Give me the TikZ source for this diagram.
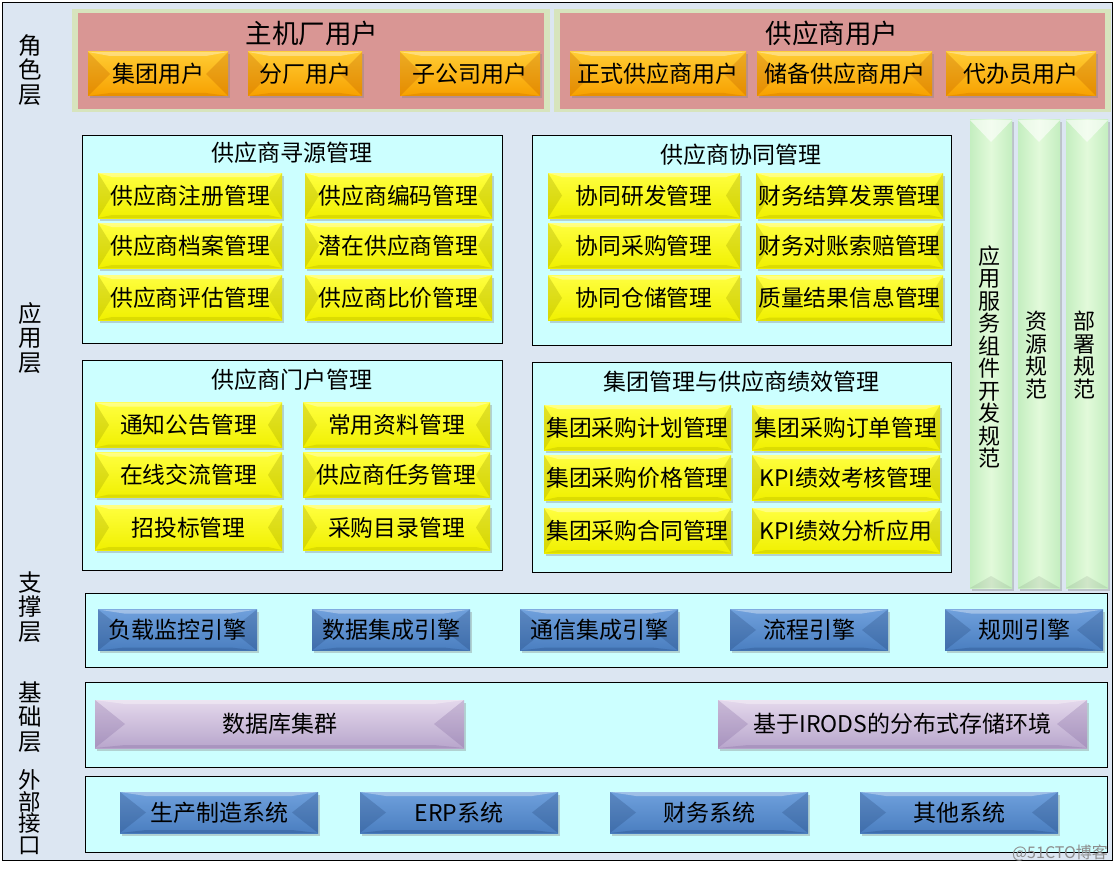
\documentclass[tikz,border=0pt]{standalone}
\usepackage{fontspec}
\setmainfont{Noto Sans CJK SC}
\usetikzlibrary{shadows}
\definecolor{bgc}{HTML}{DCE6F2}
\definecolor{cyanbox}{HTML}{CCFFFF}
\definecolor{pinkc}{HTML}{D99694}
\definecolor{greenglow}{HTML}{D7E4BD}
\definecolor{orT}{HTML}{FFCC33}
\definecolor{orB}{HTML}{F7A000}
\definecolor{orE}{HTML}{C06000}
\definecolor{yeT}{HTML}{FFFF40}
\definecolor{yeB}{HTML}{F0F000}
\definecolor{yeE}{HTML}{A0A000}
\definecolor{blT}{HTML}{6FA0DC}
\definecolor{blB}{HTML}{4A7EC0}
\definecolor{blE}{HTML}{1F3F70}
\definecolor{puT}{HTML}{E4D8EC}
\definecolor{puB}{HTML}{B8A6CC}
\definecolor{puE}{HTML}{7A5E99}
\definecolor{grT}{HTML}{E2FADA}
\definecolor{grB}{HTML}{C4EEC0}
\tikzset{
  bevel/.style n args={5}{
    draw=none, top color=#1, bottom color=#2, inner sep=0pt,
    drop shadow={shadow xshift=1.5pt, shadow yshift=-2.5pt, opacity=0.35},
    path picture={
      \fill[white, opacity=0.35] (path picture bounding box.north west) -- (path picture bounding box.north east)
        -- ([xshift=-#4, yshift=-4pt]path picture bounding box.north east)
        -- ([xshift=#4, yshift=-4pt]path picture bounding box.north west) -- cycle;
      \fill[#3, opacity=#5] (path picture bounding box.north west) -- ([xshift=#4]path picture bounding box.west)
        -- (path picture bounding box.south west) -- cycle;
      \fill[#3, opacity=#5] (path picture bounding box.north east) -- ([xshift=-#4]path picture bounding box.east)
        -- (path picture bounding box.south east) -- cycle;
      \fill[#3, opacity=0.25] (path picture bounding box.south west) -- (path picture bounding box.south east)
        -- ([xshift=-#4, yshift=3pt]path picture bounding box.south east)
        -- ([xshift=#4, yshift=3pt]path picture bounding box.south west) -- cycle;
    }},
  orbtn/.style={bevel={orT}{orB}{orE}{22pt}{0.3}, minimum height=44pt, font=\fontsize{23}{25}\selectfont},
  yebtn/.style={bevel={yeT}{yeB}{yeE}{14pt}{0.3}, minimum height=45pt, font=\fontsize{22.8}{25}\selectfont},
  blbtn/.style={bevel={blT}{blB}{blE}{26pt}{0.25}, minimum height=41pt, font=\fontsize{23}{25}\selectfont},
  pubtn/.style={bevel={puT}{puB}{puE}{30pt}{0.25}, minimum height=48pt, font=\fontsize{23}{25}\selectfont},
  grbar/.style={draw=none, left color=grB, right color=grB, middle color=grT, inner sep=0pt,
    drop shadow={shadow xshift=1.5pt, shadow yshift=-2.5pt, opacity=0.35},
    path picture={
      \fill[white, opacity=0.6] (path picture bounding box.north west) -- (path picture bounding box.north east)
        -- ([yshift=-22pt]path picture bounding box.north) -- cycle;
      \fill[black, opacity=0.08] (path picture bounding box.south west) -- (path picture bounding box.south east)
        -- ([yshift=12pt]path picture bounding box.south) -- cycle;
    }},
  grpbox/.style={draw=black, line width=0.8pt, fill=cyanbox},
  sidelbl/.style={align=center, font=\fontsize{23.5}{24.5}\selectfont, inner sep=0pt},
  ttl/.style={font=\fontsize{23}{25}\selectfont, inner sep=0pt},
  bigttl/.style={font=\fontsize{26.5}{28}\selectfont, inner sep=0pt},
  vtxt/.style={align=center, font=\fontsize{22}{22.5}\selectfont, inner sep=0pt}
}
\begin{document}
\begin{tikzpicture}[x=1pt,y=-1pt]
\useasboundingbox (0,0) rectangle (1118,872);
\fill[white] (0,0) rectangle (1118,872);
\node[draw=black, line width=0.8pt, fill=bgc, minimum width=1110pt, minimum height=858pt, inner sep=0pt] (frame) at (557,431) {};

% side labels
\node[sidelbl] (l1) at (30,70) {角\\色\\层};
\node[sidelbl] (l2) at (30,338) {应\\用\\层};
\node[sidelbl] (l3) at (30,607) {支\\撑\\层};
\node[sidelbl] (l4) at (30,717) {基\\础\\层};
\node[sidelbl, font=\fontsize{22.5}{21.5}\selectfont] (l5) at (30,812) {外\\部\\接\\口};

% role layer
\node[fill=greenglow, minimum width=478pt, minimum height=103pt, inner sep=0pt] (hostg) at (311,61) {};
\node[fill=pinkc, minimum width=466pt, minimum height=96pt, inner sep=0pt] (host) at (311,61) {};
\node[fill=greenglow, minimum width=557pt, minimum height=103pt, inner sep=0pt] (supg) at (832,61) {};
\node[fill=pinkc, minimum width=545pt, minimum height=96pt, inner sep=0pt] (sup) at (832,61) {};
\node[bigttl] (hostt) at (312,33) {主机厂用户};
\node[bigttl] (supt) at (832,33) {供应商用户};
\node[orbtn, minimum width=140pt] (r1) at (158,74) {集团用户};
\node[orbtn, minimum width=114pt] (r2) at (305,74) {分厂用户};
\node[orbtn, minimum width=140pt] (r3) at (470,74) {子公司用户};
\node[orbtn, minimum width=176pt] (r4) at (658,74) {正式供应商用户};
\node[orbtn, minimum width=175pt] (r5) at (844.5,74) {储备供应商用户};
\node[orbtn, minimum width=150pt] (r6) at (1021,74) {代办员用户};

% application layer groups
\node[grpbox, minimum width=420pt, minimum height=208pt, inner sep=0pt] (g1) at (292,239) {};
\node[ttl] (g1t) at (292,153) {供应商寻源管理};
\node[yebtn, minimum width=184pt] (a11) at (190,195.5) {供应商注册管理};
\node[yebtn, minimum width=187pt] (a12) at (398.5,195.5) {供应商编码管理};
\node[yebtn, minimum width=184pt] (a21) at (190,245.5) {供应商档案管理};
\node[yebtn, minimum width=187pt] (a22) at (398.5,245.5) {潜在供应商管理};
\node[yebtn, minimum width=184pt] (a31) at (190,297.5) {供应商评估管理};
\node[yebtn, minimum width=187pt] (a32) at (398.5,297.5) {供应商比价管理};

\node[grpbox, minimum width=419pt, minimum height=210pt, inner sep=0pt] (g2) at (741.5,240) {};
\node[ttl] (g2t) at (741,155) {供应商协同管理};
\node[yebtn, minimum width=192pt] (b11) at (644,195.5) {协同研发管理};
\node[yebtn, minimum width=187pt] (b12) at (849.5,195.5) {财务结算发票管理};
\node[yebtn, minimum width=192pt] (b21) at (644,245.5) {协同采购管理};
\node[yebtn, minimum width=187pt] (b22) at (849.5,245.5) {财务对账索赔管理};
\node[yebtn, minimum width=192pt] (b31) at (644,298) {协同仓储管理};
\node[yebtn, minimum width=187pt] (b32) at (849.5,298) {质量结果信息管理};

\node[grpbox, minimum width=420pt, minimum height=210pt, inner sep=0pt] (g3) at (292,465) {};
\node[ttl] (g3t) at (292,380) {供应商门户管理};
\node[yebtn, minimum width=187pt] (c11) at (188.5,425) {通知公告管理};
\node[yebtn, minimum width=187pt] (c12) at (396.5,425) {常用资料管理};
\node[yebtn, minimum width=187pt] (c21) at (188.5,475) {在线交流管理};
\node[yebtn, minimum width=187pt] (c22) at (396.5,475) {供应商任务管理};
\node[yebtn, minimum width=187pt] (c31) at (188.5,527.5) {招投标管理};
\node[yebtn, minimum width=187pt] (c32) at (396.5,527.5) {采购目录管理};

\node[grpbox, minimum width=419pt, minimum height=210pt, inner sep=0pt] (g4) at (741.5,467) {};
\node[ttl] (g4t) at (741,382) {集团管理与供应商绩效管理};
\node[yebtn, minimum width=187pt] (d11) at (637.5,427.5) {集团采购计划管理};
\node[yebtn, minimum width=188pt] (d12) at (846,427.5) {集团采购订单管理};
\node[yebtn, minimum width=187pt] (d21) at (637.5,477.5) {集团采购价格管理};
\node[yebtn, minimum width=188pt] (d22) at (846,477.5) {KPI绩效考核管理};
\node[yebtn, minimum width=187pt] (d31) at (637.5,530.5) {集团采购合同管理};
\node[yebtn, minimum width=188pt] (d32) at (846,530.5) {KPI绩效分析应用};

% vertical spec bars
\node[grbar, minimum width=42pt, minimum height=468pt] (v1) at (991,354) {};
\node[grbar, minimum width=42pt, minimum height=468pt] (v2) at (1039,354) {};
\node[grbar, minimum width=42pt, minimum height=468pt] (v3) at (1087,354) {};
\node[vtxt] (v1t) at (989,357) {应\\用\\服\\务\\组\\件\\开\\发\\规\\范};
\node[vtxt] (v2t) at (1036,355) {资\\源\\规\\范};
\node[vtxt] (v3t) at (1084,355) {部\\署\\规\\范};

% support layer
\node[grpbox, minimum width=1022pt, minimum height=74pt, inner sep=0pt] (sp) at (596,630) {};
\node[blbtn, minimum width=159pt] (s1) at (177.5,630) {负载监控引擎};
\node[blbtn, minimum width=158pt] (s2) at (391,630) {数据集成引擎};
\node[blbtn, minimum width=158pt] (s3) at (599,630) {通信集成引擎};
\node[blbtn, minimum width=158pt] (s4) at (809,630) {流程引擎};
\node[blbtn, minimum width=158pt] (s5) at (1024,630) {规则引擎};

% base layer
\node[grpbox, minimum width=1022pt, minimum height=85pt, inner sep=0pt] (bs) at (596,724.5) {};
\node[pubtn, minimum width=369pt] (f1) at (279.5,724) {数据库集群};
\node[pubtn, minimum width=369pt] (f2) at (902.5,724) {基于IRODS的分布式存储环境};

% external interface
\node[grpbox, minimum width=1022pt, minimum height=76pt, inner sep=0pt] (ex) at (596,814) {};
\node[blbtn, minimum width=198pt] (e1) at (219,812.5) {生产制造系统};
\node[blbtn, minimum width=198pt] (e2) at (459,812.5) {ERP系统};
\node[blbtn, minimum width=198pt] (e3) at (709,812.5) {财务系统};
\node[blbtn, minimum width=198pt] (e4) at (959,812.5) {其他系统};

\node[text=black!45, font=\fontsize{16}{17}\selectfont, inner sep=0pt] (wm) at (1060,853) {@51CTO博客};
\end{tikzpicture}
\end{document}
